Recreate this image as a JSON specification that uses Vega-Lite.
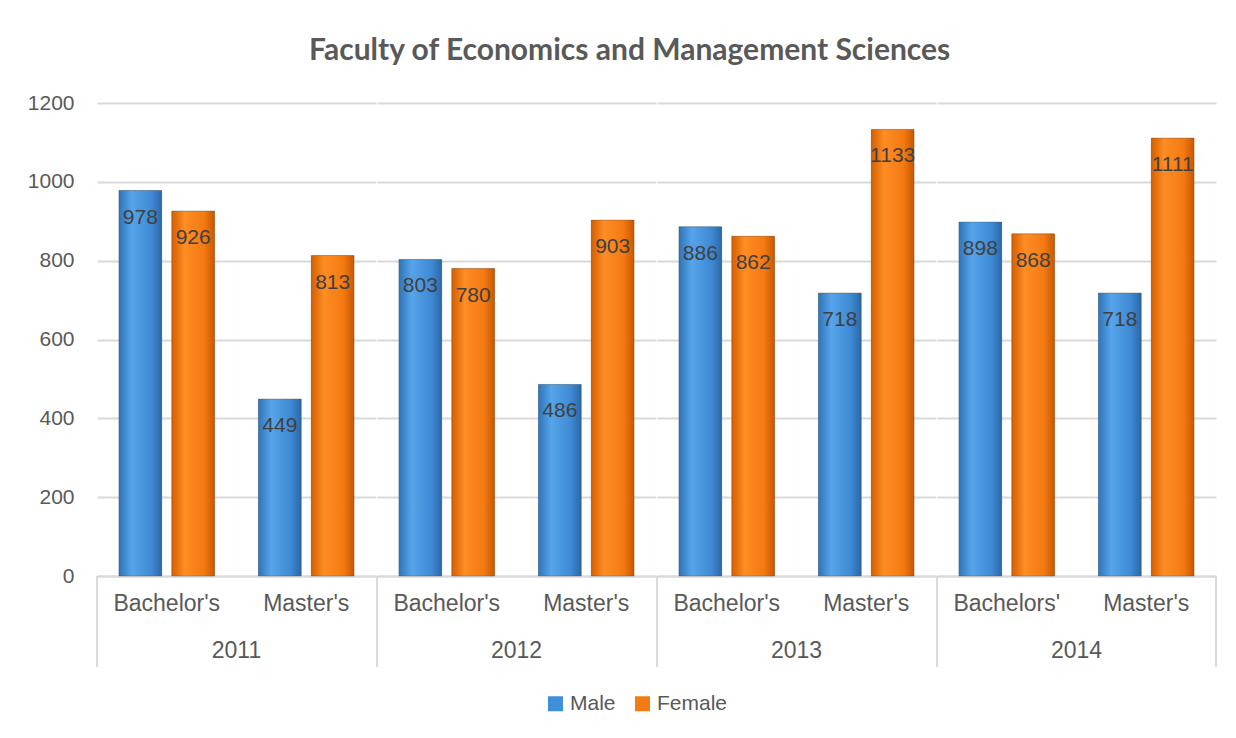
{
  "$schema": "https://vega.github.io/schema/vega-lite/v6.json",
  "padding": {"left": 5, "top": 36, "right": 5, "bottom": 5},
  "title": {"text": "Faculty of Economics and Management Sciences", "fontSize": 30, "font": "Lato", "fontWeight": "bold", "color": "#595959", "anchor": "start", "offset": 26, "dx": 304},
  "data": {"values": [
    {"year": "2011", "degree": "Bachelor's", "ord": 1, "gender": "Male", "value": 978},
    {"year": "2011", "degree": "Bachelor's", "ord": 1, "gender": "Female", "value": 926},
    {"year": "2011", "degree": "Master's", "ord": 2, "gender": "Male", "value": 449},
    {"year": "2011", "degree": "Master's", "ord": 2, "gender": "Female", "value": 813},
    {"year": "2012", "degree": "Bachelor's", "ord": 1, "gender": "Male", "value": 803},
    {"year": "2012", "degree": "Bachelor's", "ord": 1, "gender": "Female", "value": 780},
    {"year": "2012", "degree": "Master's", "ord": 2, "gender": "Male", "value": 486},
    {"year": "2012", "degree": "Master's", "ord": 2, "gender": "Female", "value": 903},
    {"year": "2013", "degree": "Bachelor's", "ord": 1, "gender": "Male", "value": 886},
    {"year": "2013", "degree": "Bachelor's", "ord": 1, "gender": "Female", "value": 862},
    {"year": "2013", "degree": "Master's", "ord": 2, "gender": "Male", "value": 718},
    {"year": "2013", "degree": "Master's", "ord": 2, "gender": "Female", "value": 1133},
    {"year": "2014", "degree": "Bachelors'", "ord": 1, "gender": "Male", "value": 898},
    {"year": "2014", "degree": "Bachelors'", "ord": 1, "gender": "Female", "value": 868},
    {"year": "2014", "degree": "Master's", "ord": 2, "gender": "Male", "value": 718},
    {"year": "2014", "degree": "Master's", "ord": 2, "gender": "Female", "value": 1111}
  ]},
  "facet": {"column": {"field": "year", "type": "nominal", "title": null,
    "header": {"labelOrient": "bottom", "labelFontSize": 23, "labelFont": "Liberation Sans", "labelColor": "#595959", "labelPadding": -28}}},
  "spacing": 0,
  "resolve": {"scale": {"x": "independent", "xOffset": "independent"}},
  "spec": {
    "width": 279,
    "height": 473,
    "encoding": {
      "x": {"field": "degree", "type": "nominal", "sort": {"field": "ord"}, "title": null,
        "scale": {"type": "band", "paddingInner": 0, "paddingOuter": 0},
        "axis": {"labelAngle": 0, "labelFontSize": 23, "labelFont": "Liberation Sans", "labelColor": "#595959", "ticks": false, "labelPadding": 16, "domainColor": "#d9d9d9", "domainWidth": 2}},
      "xOffset": {"field": "gender", "type": "nominal", "sort": ["Male", "Female"], "scale": {"paddingInner": 0.19, "paddingOuter": 0.415}},
      "y": {"field": "value", "type": "quantitative", "title": null,
        "scale": {"domain": [0, 1200]},
        "axis": {"values": [0, 200, 400, 600, 800, 1000, 1200], "format": "d", "labelFontSize": 21, "labelFont": "Liberation Sans", "labelColor": "#595959", "ticks": false, "domain": false, "labelPadding": 22, "gridColor": "#d9d9d9", "gridWidth": 2, "minExtent": 91, "maxExtent": 91}}
    },
    "layer": [
      {
        "mark": {"type": "bar"},
        "encoding": {
          "fill": {"field": "gender", "type": "nominal", "sort": ["Male", "Female"], "title": null,
            "scale": {"domain": ["Male", "Female"], "range": ["#3f8fd9", "#f47b14"]},
            "legend": {"orient": "none", "legendX": 448, "legendY": 590, "direction": "horizontal", "symbolType": "square", "symbolSize": 225, "labelFontSize": 21, "labelFont": "Liberation Sans", "labelColor": "#595959", "symbolStrokeWidth": 0, "columnPadding": 16, "labelOffset": 4}}
        }
      },
      {
        "mark": {"type": "bar", "stroke": "#4d4d4d", "strokeOpacity": 0.35, "strokeWidth": 1},
        "encoding": {
          "fill": {
            "condition": {"test": "datum.gender === 'Male'",
              "value": {"gradient": "linear", "x1": 0, "x2": 1, "y1": 0, "y2": 0, "stops": [{"offset": 0, "color": "#2f74b8"}, {"offset": 0.3, "color": "#56a4ea"}, {"offset": 0.75, "color": "#3f8ad4"}, {"offset": 1, "color": "#2a68a8"}]}},
            "value": {"gradient": "linear", "x1": 0, "x2": 1, "y1": 0, "y2": 0, "stops": [{"offset": 0, "color": "#d45f00"}, {"offset": 0.3, "color": "#ff8c24"}, {"offset": 0.75, "color": "#f47a12"}, {"offset": 1, "color": "#c85800"}]}
          }
        }
      },
      {
        "mark": {"type": "text", "baseline": "middle", "dy": 27, "fontSize": 21, "font": "Liberation Sans", "color": "#404040"},
        "encoding": {
          "text": {"field": "value", "type": "quantitative"}
        }
      },
      {
        "transform": [{"filter": "datum.ord === 1"}],
        "mark": {"type": "rule", "color": "#d9d9d9", "strokeWidth": 2},
        "encoding": {
          "x": {"field": "degree", "type": "nominal", "sort": {"field": "ord"}, "bandPosition": 0},
          "xOffset": null,
          "y": {"datum": 0},
          "y2": {"datum": -230}
        }
      },
      {
        "transform": [{"filter": "datum.ord === 2 && datum.year === '2014'"}],
        "mark": {"type": "rule", "color": "#d9d9d9", "strokeWidth": 2},
        "encoding": {
          "x": {"field": "degree", "type": "nominal", "sort": {"field": "ord"}, "bandPosition": 1},
          "xOffset": null,
          "y": {"datum": 0},
          "y2": {"datum": -230}
        }
      }
    ]
  },
  "config": {
    "view": {"stroke": null}
  }
}
